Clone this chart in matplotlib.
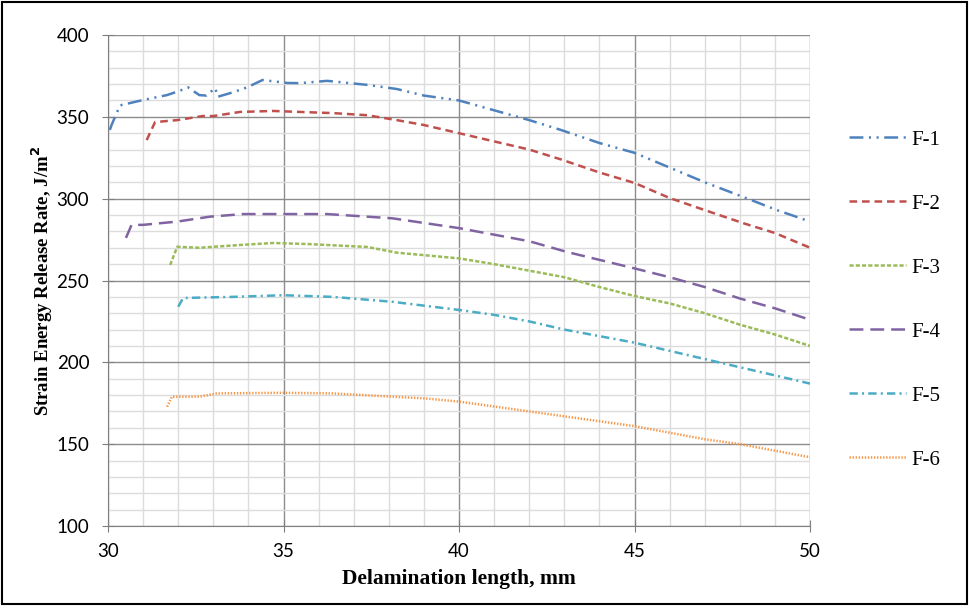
import numpy as np
import matplotlib
matplotlib.use("Agg")
import matplotlib.pyplot as plt
from matplotlib.patches import Rectangle
from matplotlib.ticker import MultipleLocator

plt.rcParams['font.family'] = ['Liberation Serif', 'DejaVu Serif']
plt.rcParams['lines.scale_dashes'] = False

# values (delamination length mm, G J/m^2)
f1_x = [30.05, 30.1, 30.34, 31.0, 31.68, 32.05, 32.28, 32.6, 32.8, 33.05, 33.13, 33.56, 33.96, 34.4,
        35.1, 35.47, 36.24, 37.4, 38.23, 39, 40, 41, 42, 42.9, 44, 45, 46, 47, 48.1, 49.06, 50]
f1_y = [342, 345, 357, 360.3, 363.3, 366, 368, 363.3, 363, 367.6, 362.3, 365, 368, 372.5,
        370.7, 370.6, 372, 369.5, 367, 363, 360, 354, 348, 342, 334, 328, 319, 310, 301, 293, 286]

f2_x = [31.1, 31.34, 31.97, 32.7, 33.0, 33.76, 34.7, 35.47, 36.4, 37.38, 38.23, 39, 40, 41, 42,
        42.9, 44, 45, 46, 47, 48.1, 49, 50]
f2_y = [335.8, 346.8, 348, 350.5, 350.5, 353, 353.6, 353, 352.3, 351, 348, 345, 340, 335, 330,
        324, 316, 309.6, 300.4, 293, 285, 279, 270]

f3_x = [31.77, 31.97, 32.6, 33.76, 34.7, 35.67, 37.38, 38.23, 40, 41, 42, 43, 44, 45, 46, 47,
        48, 49, 50]
f3_y = [259.5, 270.6, 270, 271.7, 272.9, 272.3, 270.5, 267, 263.5, 260, 256, 252, 246, 240.5,
        236, 230, 223, 217, 210]

f4_x = [30.51, 30.67, 31.0, 31.97, 32.9, 33.85, 34.9, 36.24, 38.1, 40, 41, 42, 43.08, 44.96,
        46, 47, 48, 49, 50]
f4_y = [276, 284, 284, 286, 289, 290.6, 290.6, 290.6, 288, 282, 278, 274, 267.4, 257.6,
        252, 246, 239, 233, 226]

f5_x = [32.0, 32.14, 33.56, 35.0, 36.4, 38.1, 40, 41, 42, 43, 44, 45, 46, 47, 48, 49, 50]
f5_y = [234, 239.3, 240, 241, 240, 237, 232, 229, 225, 220, 216, 212, 207, 202, 197, 192, 187]

f6_x = [31.68, 31.82, 32.6, 33.1, 35.0, 36.4, 38.1, 39, 40, 41, 42, 43, 44, 45, 46, 47, 48,
        49, 50]
f6_y = [172.9, 179, 179, 181, 181.4, 181, 179, 178, 176, 173, 170, 167, 164, 161, 157, 153,
        150, 146, 142]

labels = ['F-1', 'F-2', 'F-3', 'F-4', 'F-5', 'F-6']
colors = ['#4F81BD', '#C0504D', '#9BBB59', '#8064A2', '#4BACC6', '#F79646']
dashes = [(10, 4, 1.5, 4, 1.5, 4), (5.5, 3.5), (3, 1.5), (10, 5), (6, 3, 1.5, 3), (1, 1.2)]
series = [(f1_x, f1_y), (f2_x, f2_y), (f3_x, f3_y), (f4_x, f4_y), (f5_x, f5_y), (f6_x, f6_y)]

fig = plt.figure(figsize=(9.69, 6.08), dpi=100)
ax = fig.add_axes([0.1115, 0.1349, 0.7245, 0.8075])

for (xs, ys), lab, c, d in zip(series, labels, colors, dashes):
    ax.plot(xs, ys, color=c, lw=1.8, dashes=d, label=lab)

ax.set_xlim(30, 50)
ax.set_ylim(100, 400)
ax.xaxis.set_major_locator(MultipleLocator(5))
ax.xaxis.set_minor_locator(MultipleLocator(1))
ax.yaxis.set_major_locator(MultipleLocator(50))
ax.yaxis.set_minor_locator(MultipleLocator(10))
ax.grid(which='major', color='#8c8c8c', lw=1.0)
ax.grid(which='minor', color='#dcdcdc', lw=1.0)
ax.set_axisbelow(True)
for s in ['top', 'right']:
    ax.spines[s].set_visible(False)
for s in ['left', 'bottom']:
    ax.spines[s].set_color('#7f7f7f')
ax.tick_params(which='major', direction='inout', length=8, color='#7f7f7f', labelsize=13.5)
ax.tick_params(axis='y', pad=9.5)
ax.tick_params(axis='x', pad=8)
ax.tick_params(which='minor', length=0)
for t in ax.get_xticklabels() + ax.get_yticklabels():
    t.set_family(['Lato', 'DejaVu Sans'])

ax.set_xlabel('Delamination length, mm', fontsize=15.5, fontweight='bold', labelpad=7)
ax.set_ylabel('Strain Energy Release Rate, J/m$^{\\mathbf{2}}$', fontsize=13.5,
              fontweight='bold', labelpad=1)

fig.legend(loc='upper left', bbox_to_anchor=(0.865, 0.803), frameon=False, fontsize=15,
           labelspacing=2.13, handlelength=2.75, handletextpad=0.25, borderpad=0)

fig.patches.append(Rectangle((0.002, 0.006), 0.996, 0.99, transform=fig.transFigure,
                             fill=False, edgecolor='black', lw=1.5))

fig.savefig('out.png', dpi=100)
